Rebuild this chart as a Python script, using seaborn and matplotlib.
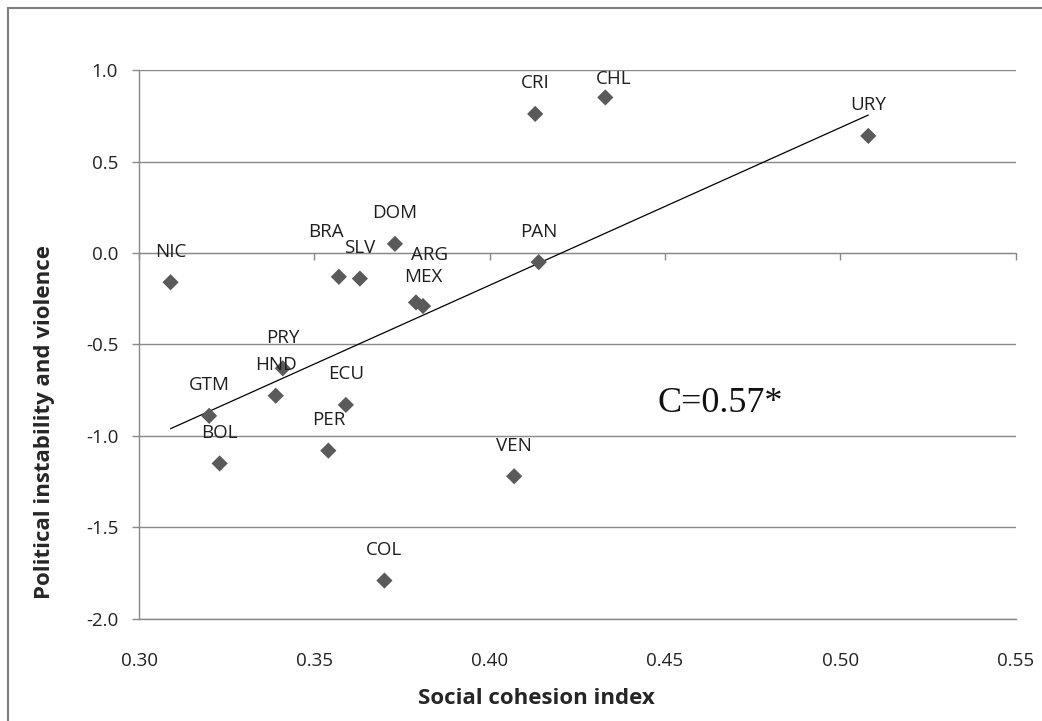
import numpy as np
import pandas as pd
import matplotlib
matplotlib.use('Agg')
import matplotlib.pyplot as plt
from matplotlib.patches import Rectangle
import seaborn as sns

# values
countries = ['NIC', 'BRA', 'SLV', 'DOM', 'ARG', 'MEX', 'PRY', 'HND', 'GTM',
             'BOL', 'ECU', 'PER', 'CRI', 'CHL', 'URY', 'PAN', 'VEN', 'COL']
cohesion = [0.309, 0.357, 0.363, 0.373, 0.379, 0.381, 0.341, 0.339, 0.320,
            0.323, 0.359, 0.354, 0.413, 0.433, 0.508, 0.414, 0.407, 0.370]
instability = [-0.16, -0.13, -0.14, 0.05, -0.27, -0.29, -0.63, -0.78, -0.89,
               -1.15, -0.83, -1.08, 0.76, 0.85, 0.64, -0.05, -1.22, -1.79]
x_ticks = [0.30, 0.35, 0.40, 0.45, 0.50, 0.55]
y_ticks = [-2.0, -1.5, -1.0, -0.5, 0.0, 0.5, 1.0]
corr_text = 'C=0.57*'

# label offsets (points) where the default "above" position was moved
label_offsets = {'BRA': (-9, 32), 'CHL': (6, 13), 'ARG': (10, 34), 'MEX': (0, 21)}
default_offset = (0, 22)

df = pd.DataFrame({'country': countries, 'cohesion': cohesion, 'instability': instability})

sns.set_style('white')
plt.rcParams['font.family'] = ['Open Sans', 'DejaVu Sans']
plt.rcParams['axes.unicode_minus'] = False

grey = '#898989'
fig = plt.figure(figsize=(10.42, 7.21), dpi=100)
ax = fig.add_axes([0.1334, 0.1415, 0.8412, 0.7614])

# linear trend line (Excel style) + diamond markers
sns.regplot(data=df, x='cohesion', y='instability', ax=ax, ci=None, scatter=False,
            line_kws=dict(color='black', lw=0.9))
sns.scatterplot(data=df, x='cohesion', y='instability', ax=ax, marker='D', s=68,
                color='#5a5a5a', edgecolor='none', zorder=3)

for _, row in df.iterrows():
    off = label_offsets.get(row['country'], default_offset)
    ax.annotate(row['country'], (row['cohesion'], row['instability']),
                xytext=off, textcoords='offset points', ha='center', va='center',
                fontsize=13.5, color='#1e1e1e')

ax.set_xlim(0.30, 0.55)
ax.set_ylim(-2.0, 1.0)
ax.set_xticks(x_ticks)
ax.set_yticks(y_ticks)
ax.xaxis.set_major_formatter('{x:.2f}')
ax.yaxis.set_major_formatter('{x:.1f}')
ax.grid(axis='y', color=grey, lw=1)
ax.grid(axis='x', visible=False)

for s in ['top', 'right']:
    ax.spines[s].set_visible(False)
for s in ['left', 'bottom']:
    ax.spines[s].set_color(grey)
    ax.spines[s].set_linewidth(1)

ax.tick_params(axis='y', direction='out', length=5, width=1, color=grey, pad=10,
               labelsize=13.5, labelcolor='#222222', left=True)
ax.tick_params(axis='x', length=0, pad=24, labelsize=13.5, labelcolor='#222222')

# horizontal axis crosses at y=0 with its tick marks there
sec = ax.secondary_xaxis(2 / 3)
sec.set_xticks(x_ticks)
sec.tick_params(axis='x', direction='in', length=5, width=1, color=grey,
                labeltop=False, labelbottom=False)
for s in sec.spines.values():
    s.set_color(grey)

ax.set_xlabel('Social cohesion index', fontsize=16, fontweight='bold', va='center')
ax.xaxis.set_label_coords(0.453, -0.144)
ax.set_ylabel('Political instability and violence', fontsize=16, fontweight='bold', va='center')
ax.yaxis.set_label_coords(-0.108, 0.359)

ax.text(0.663, 0.392, corr_text, transform=ax.transAxes, ha='center', va='center',
        fontsize=26, family='Liberation Serif', color='#111111')

# outer chart border (cut on the right and bottom)
fig.add_artist(Rectangle((8 / 1042, -0.1), 1.2, 1.1 - 8 / 721, transform=fig.transFigure,
                         fill=False, edgecolor='#7f7f7f', lw=1.5))

fig.savefig('out.png', dpi=100)
